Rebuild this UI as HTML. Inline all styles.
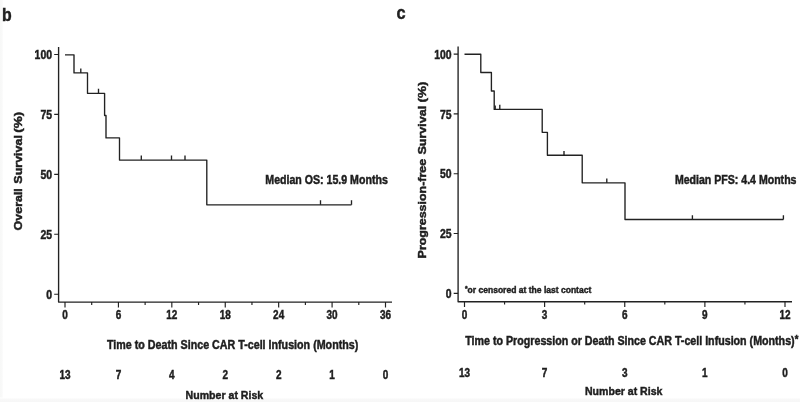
<!DOCTYPE html>
<html lang="en">
<head>
<meta charset="utf-8">
<title>Kaplan-Meier survival curves</title>
<style>
html,body{margin:0;padding:0;background:#fff;}
body{width:800px;height:402px;overflow:hidden;}
svg{display:block;}
svg text{font-family:"Liberation Sans", "DejaVu Sans", sans-serif;font-weight:700;fill:#202020;stroke:#202020;stroke-width:0.45;}
.ax{stroke:#202020;stroke-width:1.35;fill:none;stroke-linecap:butt;stroke-linejoin:round;}
.tk{stroke:#202020;stroke-width:1.15;fill:none;}
.km{stroke:#202020;stroke-width:1.35;fill:none;stroke-linejoin:round;}
</style>
</head>
<body>
<svg width="800" height="402" viewBox="0 0 800 402">
<rect x="0" y="0" width="800" height="402" fill="#ffffff"/>
<defs><filter id="soft" x="-10" y="-10" width="820" height="422" filterUnits="userSpaceOnUse"><feGaussianBlur stdDeviation="0.42"/></filter><linearGradient id="gb" x1="0" y1="0" x2="0" y2="1"><stop offset="0" stop-color="#ffffff"/><stop offset="0.45" stop-color="#f8f8f8"/><stop offset="1" stop-color="#f7f7f7"/></linearGradient><linearGradient id="gl" x1="0" y1="0" x2="1" y2="0"><stop offset="0" stop-color="#f7f8f7"/><stop offset="0.55" stop-color="#f9f9f9"/><stop offset="1" stop-color="#ffffff"/></linearGradient></defs>
<rect x="0" y="0" width="3.6" height="402" fill="url(#gl)"/>
<rect x="0" y="397.5" width="800" height="4.5" fill="url(#gb)"/>
<g filter="url(#soft)">

<g>
<path class="ax" d="M58.6 47V302.1H392"/>
<path class="tk" d="M54.2 54.50H58.6M54.2 114.42H58.6M54.2 174.35H58.6M54.2 234.27H58.6M54.2 294.20H58.6"/>
<path class="tk" d="M65.00 302.1V307.5M118.42 302.1V307.5M171.83 302.1V307.5M225.25 302.1V307.5M278.67 302.1V307.5M332.08 302.1V307.5M385.50 302.1V307.5M91.71 302.1V304.90000000000003M145.12 302.1V304.90000000000003M198.54 302.1V304.90000000000003M251.96 302.1V304.90000000000003M305.38 302.1V304.90000000000003M358.79 302.1V304.90000000000003"/>
<path class="km" d="M65 54.8H74V72.9H87.5V93.3H104.6V115.5H106V137.9H119.5V160.1H206.8V204.8H351.5"/>
<path class="km" d="M80.8 72.9V68.60000000000001M98.5 93.3V88.7M141.3 160.1V155.5M171.5 160.1V155.5M185 160.1V155.5M320.5 204.8V200.3M351.5 204.8V200.3"/>
<text x="52.0" y="59.2" font-size="11.9" text-anchor="end" textLength="17.4" lengthAdjust="spacingAndGlyphs" stroke-width="0.5">100</text>
<text x="52.0" y="119.12" font-size="11.9" text-anchor="end" textLength="11.6" lengthAdjust="spacingAndGlyphs" stroke-width="0.5">75</text>
<text x="52.0" y="179.05" font-size="11.9" text-anchor="end" textLength="11.6" lengthAdjust="spacingAndGlyphs" stroke-width="0.5">50</text>
<text x="52.0" y="238.97" font-size="11.9" text-anchor="end" textLength="11.6" lengthAdjust="spacingAndGlyphs" stroke-width="0.5">25</text>
<text x="52.0" y="298.9" font-size="11.9" text-anchor="end" textLength="5.8" lengthAdjust="spacingAndGlyphs" stroke-width="0.5">0</text>
<text x="65.0" y="319.2" font-size="12.2" text-anchor="middle" textLength="5.55" lengthAdjust="spacingAndGlyphs" stroke-width="0.5">0</text>
<text x="118.42" y="319.2" font-size="12.2" text-anchor="middle" textLength="5.55" lengthAdjust="spacingAndGlyphs" stroke-width="0.5">6</text>
<text x="171.83" y="319.2" font-size="12.2" text-anchor="middle" textLength="11.1" lengthAdjust="spacingAndGlyphs" stroke-width="0.5">12</text>
<text x="225.25" y="319.2" font-size="12.2" text-anchor="middle" textLength="11.1" lengthAdjust="spacingAndGlyphs" stroke-width="0.5">18</text>
<text x="278.67" y="319.2" font-size="12.2" text-anchor="middle" textLength="11.1" lengthAdjust="spacingAndGlyphs" stroke-width="0.5">24</text>
<text x="332.08" y="319.2" font-size="12.2" text-anchor="middle" textLength="11.1" lengthAdjust="spacingAndGlyphs" stroke-width="0.5">30</text>
<text x="385.5" y="319.2" font-size="12.2" text-anchor="middle" textLength="11.1" lengthAdjust="spacingAndGlyphs" stroke-width="0.5">36</text>
</g>
<text x="2.0" y="20.6" font-size="18.5" textLength="9.7" lengthAdjust="spacingAndGlyphs" stroke-width="0">b</text>
<text transform="rotate(-90)" font-size="11.3" stroke-width="0"><tspan x="-230.4" y="22.4" textLength="42.2" lengthAdjust="spacingAndGlyphs">Overall</tspan> <tspan x="-183.7" y="22.4" textLength="48.6" lengthAdjust="spacingAndGlyphs">Survival</tspan> <tspan x="-132.8" y="22.4" textLength="21.0" lengthAdjust="spacingAndGlyphs">(%)</tspan></text>
<text x="107.0" y="349.3" font-size="12.2" textLength="251.3" lengthAdjust="spacingAndGlyphs">Time to Death Since CAR T-cell Infusion (Months)</text>
<text x="65.0" y="379.3" font-size="12.2" text-anchor="middle" textLength="11.1" lengthAdjust="spacingAndGlyphs" stroke-width="0.5">13</text>
<text x="118.42" y="379.3" font-size="12.2" text-anchor="middle" textLength="5.55" lengthAdjust="spacingAndGlyphs" stroke-width="0.5">7</text>
<text x="171.83" y="379.3" font-size="12.2" text-anchor="middle" textLength="5.55" lengthAdjust="spacingAndGlyphs" stroke-width="0.5">4</text>
<text x="225.25" y="379.3" font-size="12.2" text-anchor="middle" textLength="5.55" lengthAdjust="spacingAndGlyphs" stroke-width="0.5">2</text>
<text x="278.67" y="379.3" font-size="12.2" text-anchor="middle" textLength="5.55" lengthAdjust="spacingAndGlyphs" stroke-width="0.5">2</text>
<text x="332.08" y="379.3" font-size="12.2" text-anchor="middle" textLength="5.55" lengthAdjust="spacingAndGlyphs" stroke-width="0.5">1</text>
<text x="385.5" y="379.3" font-size="12.2" text-anchor="middle" textLength="5.55" lengthAdjust="spacingAndGlyphs" stroke-width="0.5">0</text>
<text x="185.6" y="398.6" font-size="11.8" textLength="77.6" lengthAdjust="spacingAndGlyphs">Number at Risk</text>
<text x="265.3" y="183.6" font-size="11.9" textLength="122.5" lengthAdjust="spacingAndGlyphs">Median OS: 15.9 Months</text>
<g>
<path class="ax" d="M458.1 46.5V301.7H792"/>
<path class="tk" d="M453.70000000000005 54.10H458.1M453.70000000000005 113.90H458.1M453.70000000000005 173.70H458.1M453.70000000000005 233.50H458.1M453.70000000000005 293.30H458.1"/>
<path class="tk" d="M464.50 301.7V307.09999999999997M544.62 301.7V307.09999999999997M624.75 301.7V307.09999999999997M704.88 301.7V307.09999999999997M785.00 301.7V307.09999999999997M504.56 301.7V304.5M584.69 301.7V304.5M664.81 301.7V304.5M744.94 301.7V304.5"/>
<path class="km" d="M464.5 54.2H480.8V72.5H491.4V91H494.2V109.4H542.2V132.3H547.4V155.2H582.2V182.8H625V219.5H783.4"/>
<path class="km" d="M495.2 109.4V105.60000000000001M499.8 109.4V104.80000000000001M564 155.2V150.89999999999998M606.8 182.8V178.5M692.4 219.5V215.2M783.4 219.5V215.2"/>
<text x="451.6" y="58.8" font-size="11.9" text-anchor="end" textLength="17.4" lengthAdjust="spacingAndGlyphs" stroke-width="0.5">100</text>
<text x="451.6" y="118.6" font-size="11.9" text-anchor="end" textLength="11.6" lengthAdjust="spacingAndGlyphs" stroke-width="0.5">75</text>
<text x="451.6" y="178.4" font-size="11.9" text-anchor="end" textLength="11.6" lengthAdjust="spacingAndGlyphs" stroke-width="0.5">50</text>
<text x="451.6" y="238.2" font-size="11.9" text-anchor="end" textLength="11.6" lengthAdjust="spacingAndGlyphs" stroke-width="0.5">25</text>
<text x="451.6" y="298.0" font-size="11.9" text-anchor="end" textLength="5.8" lengthAdjust="spacingAndGlyphs" stroke-width="0.5">0</text>
<text x="464.5" y="319.2" font-size="12.2" text-anchor="middle" textLength="5.55" lengthAdjust="spacingAndGlyphs" stroke-width="0.5">0</text>
<text x="544.62" y="319.2" font-size="12.2" text-anchor="middle" textLength="5.55" lengthAdjust="spacingAndGlyphs" stroke-width="0.5">3</text>
<text x="624.75" y="319.2" font-size="12.2" text-anchor="middle" textLength="5.55" lengthAdjust="spacingAndGlyphs" stroke-width="0.5">6</text>
<text x="704.88" y="319.2" font-size="12.2" text-anchor="middle" textLength="5.55" lengthAdjust="spacingAndGlyphs" stroke-width="0.5">9</text>
<text x="785.0" y="319.2" font-size="12.2" text-anchor="middle" textLength="11.1" lengthAdjust="spacingAndGlyphs" stroke-width="0.5">12</text>
</g>
<text x="396.5" y="18.7" font-size="18.8" textLength="9.1" lengthAdjust="spacingAndGlyphs" stroke-width="0">c</text>
<text transform="rotate(-90)" font-size="11.3" stroke-width="0"><tspan x="-258.4" y="425.8" textLength="99.5" lengthAdjust="spacingAndGlyphs">Progression-free</tspan> <tspan x="-154.6" y="425.8" textLength="48.8" lengthAdjust="spacingAndGlyphs">Survival</tspan> <tspan x="-102.6" y="425.8" textLength="21.0" lengthAdjust="spacingAndGlyphs">(%)</tspan></text>
<text x="465.3" y="345.3" font-size="11.9" textLength="333.0" lengthAdjust="spacingAndGlyphs">Time to Progression or Death Since CAR T-cell Infusion (Months)<tspan font-size="10.5" dy="-2.2">*</tspan></text>
<text x="464.5" y="376.6" font-size="12.2" text-anchor="middle" textLength="11.1" lengthAdjust="spacingAndGlyphs" stroke-width="0.5">13</text>
<text x="544.62" y="376.6" font-size="12.2" text-anchor="middle" textLength="5.55" lengthAdjust="spacingAndGlyphs" stroke-width="0.5">7</text>
<text x="624.75" y="376.6" font-size="12.2" text-anchor="middle" textLength="5.55" lengthAdjust="spacingAndGlyphs" stroke-width="0.5">3</text>
<text x="704.88" y="376.6" font-size="12.2" text-anchor="middle" textLength="5.55" lengthAdjust="spacingAndGlyphs" stroke-width="0.5">1</text>
<text x="785.0" y="376.6" font-size="12.2" text-anchor="middle" textLength="5.55" lengthAdjust="spacingAndGlyphs" stroke-width="0.5">0</text>
<text x="585" y="394.8" font-size="11.8" textLength="77.4" lengthAdjust="spacingAndGlyphs">Number at Risk</text>
<text x="674.9" y="183.8" font-size="11.9" textLength="121.6" lengthAdjust="spacingAndGlyphs">Median PFS: 4.4 Months</text>
<text x="464.9" y="292.6" font-size="9.5" textLength="126.4" lengthAdjust="spacingAndGlyphs" stroke-width="0.42"><tspan font-size="7.6" dy="-1.6">*</tspan><tspan dy="1.6">or censored at the last contact</tspan></text>
</g>
</svg>
</body>
</html>
